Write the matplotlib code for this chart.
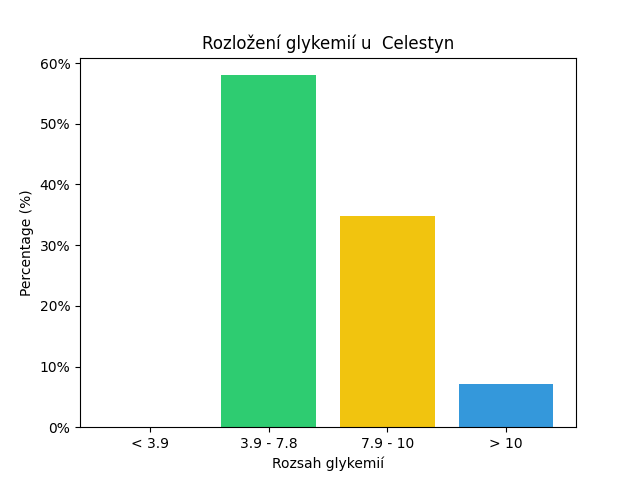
import matplotlib
matplotlib.use('Agg')
import matplotlib.pyplot as plt
from matplotlib.ticker import PercentFormatter

# glycemia ranges and share of readings in each
categories = ['< 3.9', '3.9 - 7.8', '7.9 - 10', '> 10']
percentages = [0.0, 58.0, 34.8, 7.2]
colors = ['#e74c3c', '#2ecc71', '#f1c40f', '#3498db']

fig, ax = plt.subplots(figsize=(6.4, 4.8), dpi=100)
ax.bar(categories, percentages, color=colors)

ax.yaxis.set_major_formatter(PercentFormatter(decimals=0))
ax.set_title('Rozložení glykemií u  Celestyn')
ax.set_xlabel('Rozsah glykemií')
ax.set_ylabel('Percentage (%)')

fig.savefig('out.png')
